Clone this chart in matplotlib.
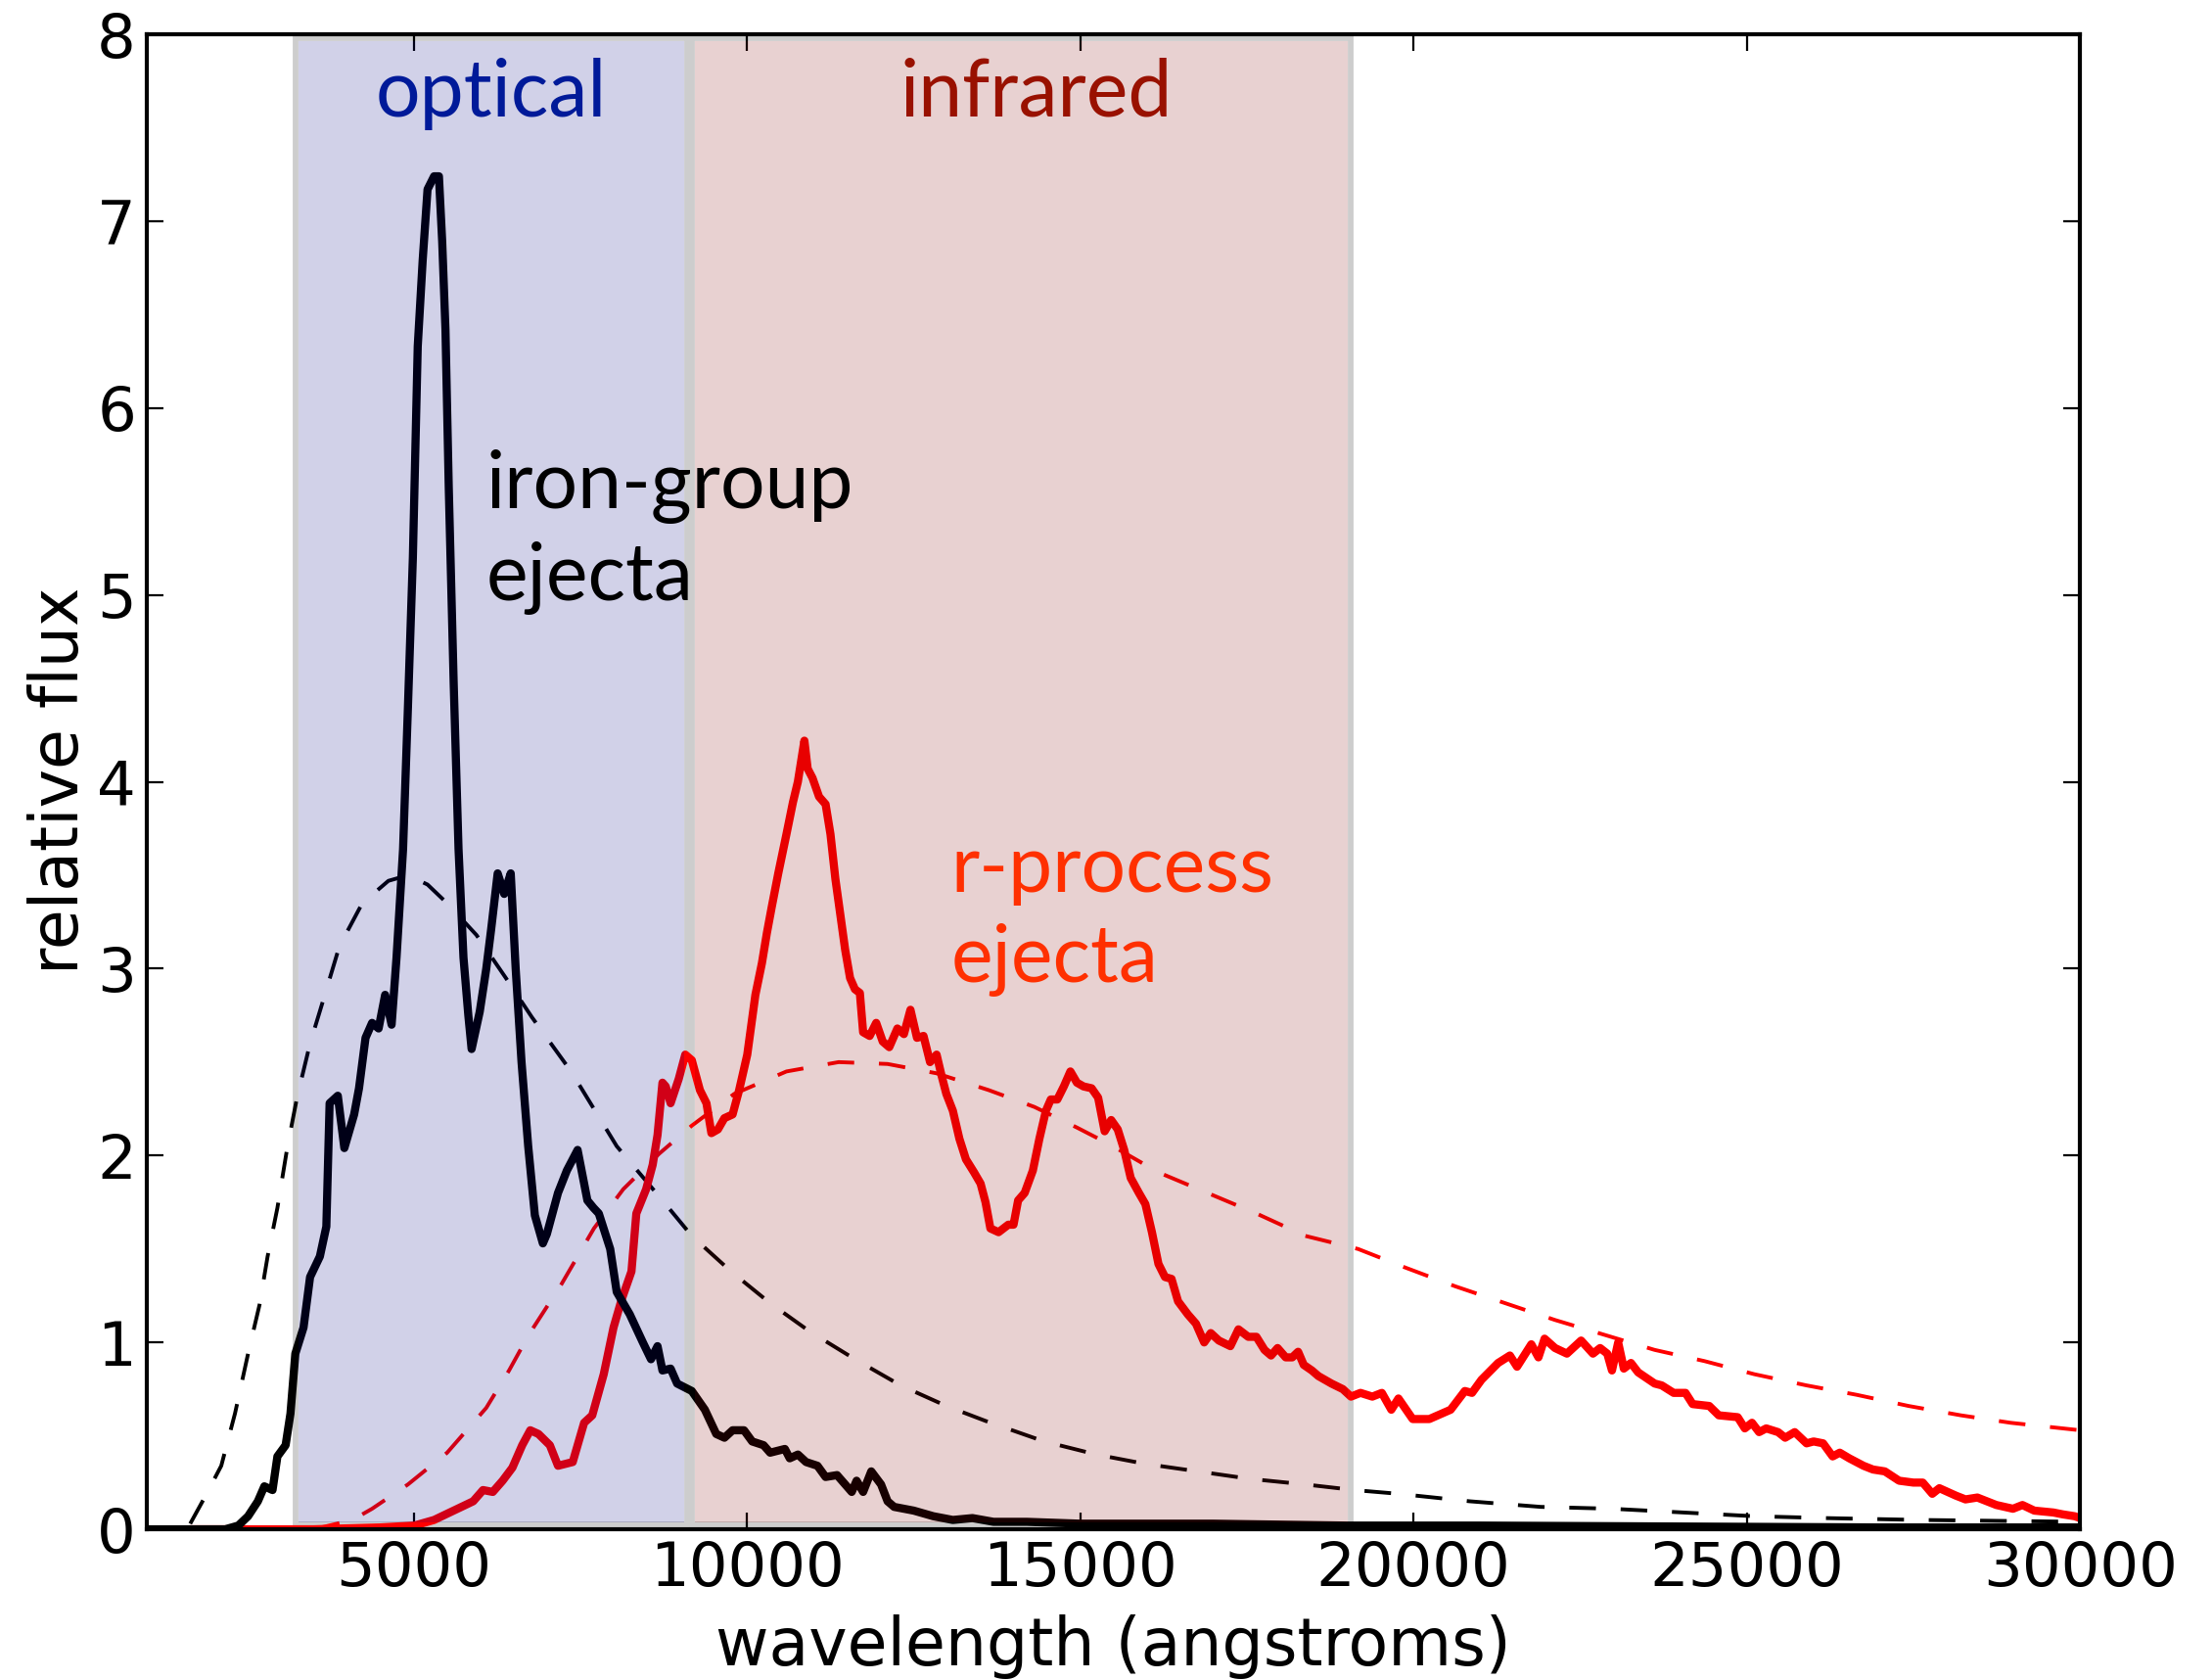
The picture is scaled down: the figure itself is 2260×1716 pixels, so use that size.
import matplotlib
matplotlib.use("Agg")
import matplotlib.pyplot as plt
from matplotlib.patches import Rectangle

# ---------------- data ----------------
iron_wl = [1000, 1800, 2175, 2371, 2518, 2665, 2762, 2885, 2958, 3081, 3154, 3227, 3350, 3448,
           3595, 3692, 3741, 3864, 3962, 4109, 4182, 4280, 4378, 4476, 4574, 4671, 4745, 4843,
           4916, 4990, 5063, 5137, 5210, 5308, 5381, 5430, 5479, 5528, 5602, 5675, 5749, 5822,
           5871, 5993, 6091, 6164, 6262, 6360, 6458, 6532, 6620, 6720, 6820, 6940, 7000, 7167,
           7300, 7461, 7608, 7700, 7779, 7950, 8048, 8244, 8440, 8562, 8660, 8734, 8856, 8954,
           9174, 9370, 9541, 9664, 9786, 9957, 10080, 10251, 10349, 10570, 10643, 10766, 10888,
           11059, 11181, 11353, 11573, 11646, 11744, 11866, 12013, 12111, 12209, 12503, 12797,
           13090, 13384, 13700, 14200, 15000, 16000, 17000, 18000, 19000, 21000, 24000, 27000,
           30000]
iron_flux = [0.0, 0.0, 0.0, 0.02, 0.07, 0.15, 0.23, 0.21, 0.39, 0.45, 0.62, 0.94, 1.08, 1.35,
             1.46, 1.62, 2.28, 2.32, 2.04, 2.22, 2.36, 2.63, 2.71, 2.68, 2.86, 2.70, 3.06, 3.64,
             4.40, 5.20, 6.33, 6.79, 7.17, 7.24, 7.24, 6.89, 6.42, 5.58, 4.53, 3.64, 3.06, 2.75,
             2.57, 2.77, 3.00, 3.21, 3.51, 3.40, 3.51, 3.00, 2.50, 2.05, 1.68, 1.53, 1.58, 1.80,
             1.92, 2.03, 1.76, 1.72, 1.69, 1.50, 1.27, 1.15, 1.00, 0.91, 0.98, 0.85, 0.86, 0.78,
             0.74, 0.64, 0.51, 0.49, 0.53, 0.53, 0.47, 0.45, 0.41, 0.43, 0.38, 0.40, 0.36,
             0.34, 0.28, 0.29, 0.20, 0.26, 0.20, 0.31, 0.24, 0.15, 0.12, 0.10, 0.07,
             0.05, 0.06, 0.04, 0.04, 0.03, 0.03, 0.03, 0.025, 0.02, 0.02, 0.015, 0.01,
             0.01]

rproc_wl = [1700, 2500, 3500, 4000, 4500, 5014, 5308, 5602, 5895, 6042, 6189, 6336, 6483, 6630,
            6751, 6874, 7045, 7167, 7388, 7559, 7681, 7853, 8000, 8122, 8269, 8342, 8489, 8587,
            8660, 8734, 8783, 8856, 8978, 9076, 9174, 9296, 9394, 9468, 9566, 9663, 9786, 9884,
            10006, 10128, 10226, 10300, 10373, 10471, 10594, 10691, 10765, 10814, 10863, 10912,
            10985, 11083, 11181, 11254, 11328, 11401, 11475, 11548, 11621, 11695, 11744, 11842,
            11940, 12038, 12136, 12258, 12356, 12454, 12552, 12650, 12748, 12846, 12919, 12992,
            13090, 13188, 13286, 13408, 13506, 13580, 13653, 13776, 13922, 14000, 14069, 14167,
            14290, 14388, 14486, 14559, 14657, 14755, 14853, 14951, 15049, 15171, 15269, 15367,
            15465, 15563, 15660, 15758, 15881, 15978, 16076, 16174, 16272, 16370, 16468, 16615,
            16737, 16860, 16958, 17080, 17253, 17374, 17521, 17643, 17765, 17863, 17961, 18083,
            18181, 18269, 18353, 18475, 18573, 18769, 18940, 19062, 19204, 19382, 19525, 19667,
            19774, 19987, 20237, 20557, 20770, 20877, 21019, 21269, 21446, 21553, 21767, 21874,
            21966, 22123, 22301, 22514, 22692, 22799, 22906, 22977, 23070, 23155, 23262, 23369,
            23617, 23724, 23902, 24080, 24187, 24436, 24579, 24863, 24970, 25077, 25184, 25291,
            25469, 25575, 25718, 25896, 26002, 26144, 26287, 26394, 26536, 26750, 26892, 27070,
            27284, 27497, 27639, 27782, 27888, 28137, 28280, 28458, 28743, 28992, 29134, 29312,
            29597, 29739, 29917, 30000]
rproc_flux = [0.0, 0.0, 0.0, 0.005, 0.01, 0.02, 0.05, 0.10, 0.15, 0.21, 0.20, 0.26, 0.33, 0.45,
              0.53, 0.51, 0.45, 0.34, 0.36, 0.57, 0.61, 0.83, 1.08, 1.23, 1.38, 1.69, 1.82, 1.95,
              2.11, 2.39, 2.37, 2.28, 2.41, 2.54, 2.51, 2.35, 2.28, 2.12, 2.14, 2.20, 2.22, 2.35,
              2.54, 2.86, 3.03, 3.19, 3.33, 3.51, 3.72, 3.89, 4.00, 4.11, 4.22, 4.07,
              4.02, 3.92, 3.88, 3.72, 3.48, 3.29, 3.10, 2.95, 2.89, 2.87, 2.66, 2.64,
              2.71, 2.61, 2.58, 2.68, 2.65, 2.78, 2.63, 2.64, 2.50, 2.54, 2.43, 2.33,
              2.24, 2.09, 1.98, 1.91, 1.85, 1.75, 1.61, 1.59, 1.63, 1.63, 1.76, 1.80,
              1.92, 2.09, 2.24, 2.30, 2.30, 2.37, 2.45, 2.39, 2.37, 2.36, 2.31, 2.13,
              2.19, 2.14, 2.03, 1.88, 1.80, 1.74, 1.59, 1.42, 1.35, 1.34, 1.22, 1.15,
              1.10, 1.00, 1.05, 1.01, 0.98, 1.07, 1.03, 1.03, 0.96, 0.93, 0.97, 0.92,
              0.92, 0.95, 0.88, 0.85, 0.82, 0.78, 0.75, 0.71, 0.73, 0.71, 0.73, 0.64,
              0.70, 0.59, 0.59, 0.64, 0.74, 0.73, 0.80, 0.89, 0.93, 0.87, 0.99, 0.92,
              1.02, 0.97, 0.94, 1.01, 0.94, 0.97, 0.94, 0.85, 1.00, 0.86, 0.89, 0.84,
              0.78, 0.77, 0.73, 0.73, 0.67, 0.66, 0.61, 0.60, 0.54, 0.57, 0.52, 0.54,
              0.52, 0.49, 0.52, 0.46, 0.47, 0.46, 0.39, 0.41, 0.38, 0.34, 0.32, 0.31,
              0.26, 0.25, 0.25, 0.19, 0.22, 0.18, 0.16, 0.17, 0.13, 0.11, 0.13, 0.10,
              0.09, 0.08, 0.07, 0.06]

bb_iron_wl = [1650, 1866, 2116, 2322, 2518, 2689, 2811, 2958, 3105, 3252, 3448, 3644, 3888, 4231,
              4623, 4916, 5210, 5504, 5944, 6385, 6776, 7363, 8048, 8734, 9174, 9762, 10349,
              10937, 11622, 12307, 12992, 13580, 14461, 15244, 15978, 16762, 17545, 18377,
              19112, 19774, 20841, 21909, 22977, 24045, 25112, 26180, 27604, 30000]
bb_iron_flux = [0.03, 0.17, 0.34, 0.62, 0.94, 1.20, 1.46, 1.72, 2.04, 2.31, 2.60, 2.83, 3.12, 3.35,
                3.47, 3.50, 3.45, 3.35, 3.18, 2.95, 2.74, 2.45, 2.05, 1.76, 1.57, 1.38, 1.21,
                1.06, 0.91, 0.77, 0.66, 0.58, 0.47, 0.40, 0.35, 0.31, 0.27, 0.24,
                0.21, 0.19, 0.15, 0.12, 0.11, 0.09, 0.07, 0.06, 0.05, 0.04]

bb_rproc_wl = [3500, 4084, 4378, 4916, 5504, 6091, 6433, 6727, 7216, 7706, 8146, 8685, 9174, 9811,
               10594, 11377, 12111, 12846, 13629, 14314, 14950, 15440, 16174, 16909, 17643,
               18377, 19169, 19881, 20628, 21375, 22123, 22870, 23617, 24365, 25112, 25896,
               26643, 27426, 28209, 28956, 30000]
bb_rproc_flux = [0.0, 0.05, 0.11, 0.24, 0.41, 0.65, 0.85, 1.04, 1.31, 1.61, 1.82, 2.01, 2.16, 2.33,
                 2.45, 2.50, 2.49, 2.44, 2.35, 2.26, 2.15, 2.06, 1.91, 1.80, 1.69,
                 1.57, 1.50, 1.40, 1.30, 1.21, 1.12, 1.04, 0.96, 0.90, 0.83, 0.77,
                 0.72, 0.66, 0.61, 0.57, 0.53]

bands = [(3230, 9100), (9180, 19060)]
band_colors = ["#000080", "#800000"]
band_names = ["optical", "infrared"]
band_label_x = [6165, 14333]
band_text_colors = ["#001A99", "#991100"]

x_ticks = [5000, 10000, 15000, 20000, 25000, 30000]
y_ticks = [0, 1, 2, 3, 4, 5, 6, 7, 8]

# ---------------- figure ----------------
fig = plt.figure(figsize=(11.3, 8.58), dpi=200)
ax = fig.add_axes([0.0664, 0.0897, 0.874, 0.8899])

ax.set_xlim(1000, 30000)
ax.set_ylim(0, 8)

# band edges (grey outline) below the spectra
edge_lw = 2.1
for (x0, x1) in bands:
    r = Rectangle((x0, 0.003), x1 - x0, 0.9945, transform=ax.get_xaxis_transform(),
                  fill=False, edgecolor="#CDCDCD", linewidth=edge_lw, zorder=1)
    ax.add_patch(r)

# spectra
ax.plot(bb_iron_wl, bb_iron_flux, color="black", lw=1.4, dashes=(7.0, 6.5), zorder=2)
ax.plot(bb_rproc_wl, bb_rproc_flux, color="red", lw=1.4, dashes=(7.0, 6.5), zorder=2)
ax.plot(rproc_wl, rproc_flux, color="red", lw=3.0, zorder=2.1, solid_joinstyle="round")
ax.plot(iron_wl, iron_flux, color="black", lw=3.0, zorder=2.2, solid_joinstyle="round")

# translucent band fills on top of the spectra, inset so the grey edge stays clean
px_per_x = 0.0681            # figure pixels per angstrom
half_edge_px = edge_lw * 200 / 72 / 2
dx = half_edge_px / px_per_x
dy = half_edge_px / 1527.0
for (x0, x1), c in zip(bands, band_colors):
    ax.axvspan(x0 + dx, x1 - dx, ymin=0.003 + dy, ymax=0.9975 - dy, facecolor=c, alpha=0.18,
               edgecolor="none", zorder=3)

# labels
ann_font = ["Lato", "DejaVu Sans"]
for lx, name, tc in zip(band_label_x, band_names, band_text_colors):
    ax.text(lx, 7.56, name, color=tc, fontsize=29, family=ann_font,
            ha="center", va="baseline", zorder=5)
ax.text(6081, 4.97, "iron-group\nejecta", color="black", fontsize=29, family=ann_font,
        ha="left", va="baseline", linespacing=1.3, zorder=5)
ax.text(13061, 2.93, "r-process\nejecta", color="#FF3000", fontsize=29, family=ann_font,
        ha="left", va="baseline", linespacing=1.3, zorder=5)

ax.set_xticks(x_ticks)
ax.set_yticks(y_ticks)
ax.tick_params(direction="in", top=True, right=True, length=6, width=0.8,
               labelsize=22.5, pad=4)
for s in ax.spines.values():
    s.set_linewidth(1.5)

ax.set_xlabel("wavelength (angstroms)", fontsize=24)
ax.set_ylabel("relative flux", fontsize=24)
ax.xaxis.label.set_va("baseline")
ax.xaxis.set_label_coords(0.5, -0.091)
ax.yaxis.label.set_va("baseline")
ax.yaxis.set_label_coords(-0.0354, 0.501)

fig.savefig("out.png", dpi=200)
